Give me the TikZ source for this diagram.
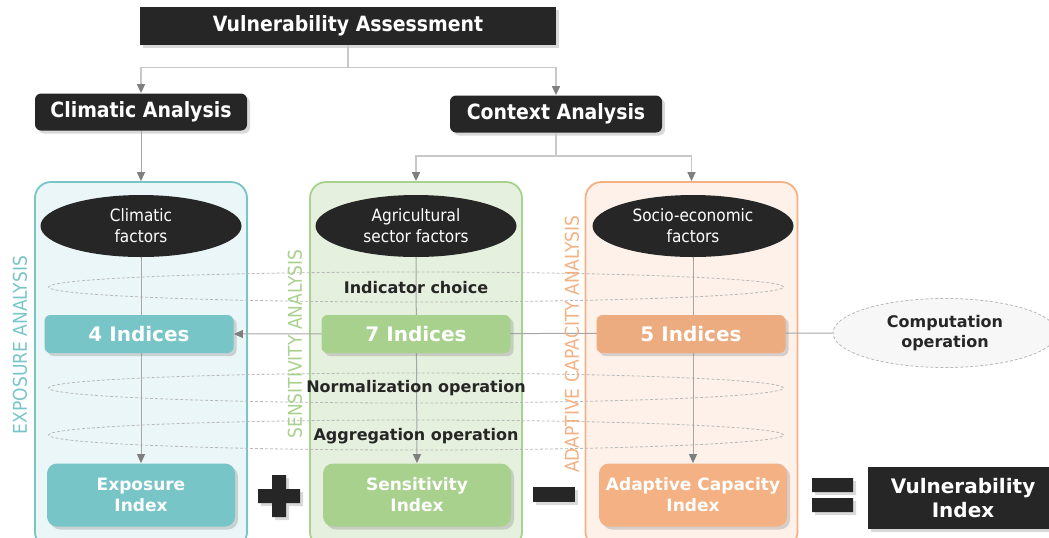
\documentclass[tikz,border=0pt]{standalone}
\usepackage{fontspec}
\setmainfont{DejaVu Sans}
\newfontfamily\narrowfont{DejaVuSansCondensed}[Extension=.ttf,BoldFont=DejaVuSansCondensed-Bold]
\usepackage{tikz}
\usetikzlibrary{arrows.meta,shapes.geometric,shadows}
\usetikzlibrary{positioning}

\definecolor{dark}{HTML}{262626}
\definecolor{expo}{HTML}{78C5C8}
\definecolor{expobg}{HTML}{EAF6F7}
\definecolor{sens}{HTML}{A9D18E}
\definecolor{sensbg}{HTML}{E6F0DE}
\definecolor{adap}{HTML}{F4B183}
\definecolor{adapbg}{HTML}{FDF1E9}
\definecolor{wire}{HTML}{C8C8C8}
\definecolor{tipgray}{HTML}{7F7F7F}

\pgfdeclarelayer{background}
\pgfsetlayers{background,main}

\tikzstyle{soft} = [drop shadow={shadow xshift=1.5pt, shadow yshift=-1.5pt, opacity=0.3}]
\tikzstyle{headbox} = [rectangle, fill=dark, text=white, font=\narrowfont\bfseries\fontsize{10.5}{12.5}\selectfont, soft]
\tikzstyle{branch} = [headbox, rounded corners=3pt, minimum width=106pt, minimum height=18.5pt]
\tikzstyle{panel} = [rectangle, rounded corners=8pt, line width=0.9pt, minimum width=106pt, minimum height=183pt]
\tikzstyle{factor} = [ellipse, fill=dark, text=white, minimum width=100.5pt, minimum height=31pt, inner sep=0pt, align=center, font=\narrowfont\fontsize{8.5}{10.5}\selectfont]
\tikzstyle{indices} = [rectangle, rounded corners=3pt, minimum width=94.5pt, minimum height=19pt, text=white, font=\bfseries\fontsize{10}{12}\selectfont, soft]
\tikzstyle{result} = [rectangle, rounded corners=5pt, minimum width=94pt, minimum height=31.5pt, text=white, align=center, font=\bfseries\fontsize{8.5}{10.5}\selectfont, soft]
\tikzstyle{stage} = [ellipse, draw=gray!55, line width=0.4pt, dash pattern=on 1.5pt off 1pt, minimum width=367.5pt, minimum height=15pt]
\tikzstyle{operation} = [font=\bfseries\fontsize{8}{10}\selectfont, text=dark]
\tikzstyle{side} = [rotate=90, font=\narrowfont\fontsize{9.5}{11}\selectfont]
\tikzstyle{wireline} = [draw=wire, line width=0.8pt, -{Triangle[length=4.5pt,width=4pt,color=tipgray]}]
\tikzstyle{flow} = [draw=gray!70, line width=0.5pt, -{Triangle[length=4.5pt,width=4pt,color=tipgray]}]

\begin{document}
\begin{tikzpicture}[x=0.5pt, y=-0.5pt]
\useasboundingbox (0,0) rectangle (1049,537);

% tree on top
\node (assess) [headbox, minimum width=208pt, minimum height=19pt] at (348,26) {Vulnerability Assessment};
\node (climatic) [branch] at (141,112) {Climatic Analysis};
\node (context) [branch] at (556,114) {Context Analysis};

% three analysis panels
\begin{pgfonlayer}{background}
\node (expopanel) [panel, fill=expobg, draw=expo] at (141,365) {};
\node (senspanel) [panel, fill=sensbg, draw=sens] at (416,365) {};
\node (adappanel) [panel, fill=adapbg, draw=adap] at (691.5,365) {};
\node (choice) [stage] at (416,287) {};
\node (normal) [stage] at (416,388) {};
\node (aggreg) [stage] at (416,435) {};
\end{pgfonlayer}

\node (climfac) [factor] at (141,226) {Climatic\\factors};
\node (agrifac) [factor] at (416,226) {Agricultural\\sector factors};
\node (sociofac) [factor] at (693,226) {Socio-economic\\factors};

\node (expo4) [indices, fill=expo] at (139,334) {4 Indices};
\node (sens7) [indices, fill=sens] at (416,334) {7 Indices};
\node (adap5) [indices, fill=adap!97!black] at (691,334) {5 Indices};

\node (choicetxt) [operation] at (416,288) {Indicator choice};
\node (normaltxt) [operation] at (416,388) {Normalization operation};
\node (aggregtxt) [operation] at (416,436) {Aggregation operation};

\node (expoindex) [result, fill=expo] at (141,495) {Exposure\\Index};
\node (sensindex) [result, fill=sens] at (417,495) {Sensitivity\\Index};
\node (adapindex) [result, fill=adap] at (693,495) {Adaptive Capacity\\Index};

\node (compute) [ellipse, draw=gray!55, fill=gray!6, dash pattern=on 1.5pt off 1pt, minimum width=112pt, minimum height=31.5pt, operation, align=center] at (945,333) {Computation\\operation};

\node (vulnindex) [headbox, minimum width=95pt, minimum height=31pt, align=center, font=\bfseries\fontsize{10}{12}\selectfont] at (963,498) {Vulnerability\\Index};

\node (expolabel) [side, text=expo] at (20,345) {EXPOSURE ANALYSIS};
\node (senslabel) [side, text=sens] at (295,344) {SENSITIVITY ANALYSIS};
\node (adaplabel) [side, text=adap] at (572,344) {ADAPTIVE CAPACITY ANALYSIS};

% plus, minus, equals
\fill[dark, soft] (258,489) rectangle (300,503) (272,475) rectangle (286,517);
\fill[dark, soft] (533,487) rectangle (575,502);
\fill[dark, soft] (812,478) rectangle (853,492) (812,498) rectangle (853,512);

% connectors
\draw[wireline] (assess.south) -- ++(0,22) -| (climatic.north);
\draw[wireline] (assess.south) -- ++(0,22) -| (context.north);
\draw[wireline] (context.south) -- ++(0,23) -| (senspanel.north);
\draw[wireline] (context.south) -- ++(0,23) -| (adappanel.north);
\draw[flow] (climatic.south) -- (expopanel.north);
\begin{pgfonlayer}{background}
\draw[flow] (climfac.south) -- (expoindex.north);
\draw[flow] (agrifac.south) -- (sensindex.north);
\draw[flow] (sociofac.south) -- (adapindex.north);
\draw[flow] (compute.west) -- (expo4.east);
\end{pgfonlayer}
\end{tikzpicture}
\end{document}
